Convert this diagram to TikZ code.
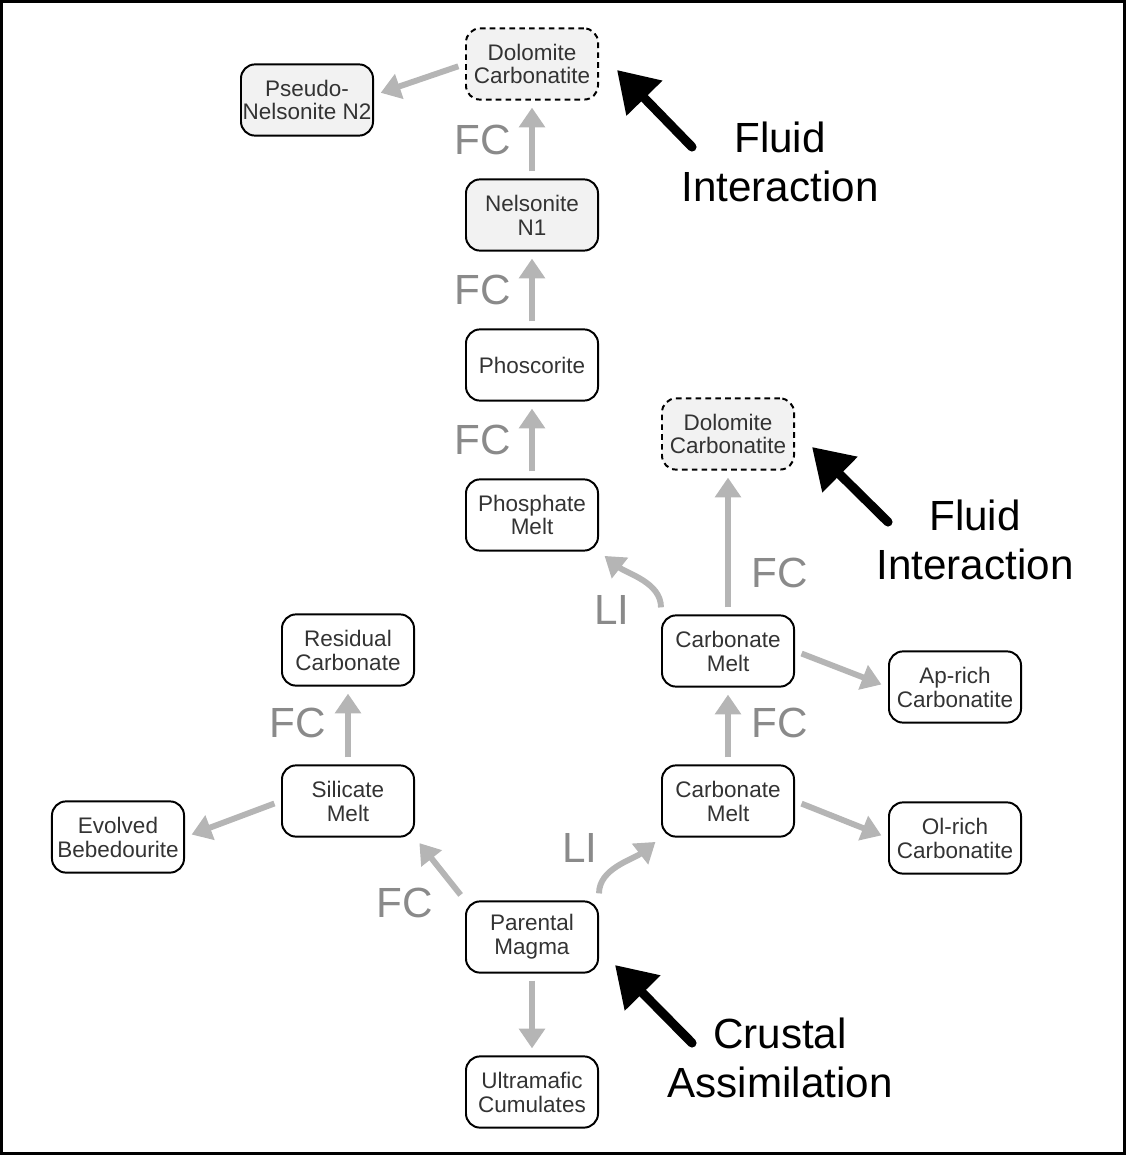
\documentclass[tikz,border=0pt]{standalone}
\usepackage{fontspec}
\setmainfont{Liberation Sans}
\usetikzlibrary{arrows.meta}
\definecolor{flowgray}{HTML}{B5B5B5}
\definecolor{labgray}{HTML}{8A8A8A}
\definecolor{boxfill}{HTML}{F2F2F2}
\definecolor{boxtext}{HTML}{333333}

\begin{document}
\begin{tikzpicture}[x=0.025cm, y=-0.025cm,
  rock/.style={draw, rounded corners=10pt, line width=1.4pt,
    minimum width=3.3cm, minimum height=1.78cm, inner sep=0pt,
    align=center, text=boxtext, font=\fontsize{16}{17}\selectfont},
  late/.style={rock, fill=boxfill},
  fluidbox/.style={late, dash pattern=on 4pt off 3pt},
  flow/.style={draw=flowgray, line width=4.2pt,
    -{Triangle[length=14pt,width=18pt]}, shorten >=5pt, shorten <=5pt},
  push/.style={line width=6.5pt, line cap=round,
    -{Triangle[length=28pt,width=34pt]}},
  proc/.style={text=labgray, font=\fontsize{30}{34}\selectfont},
  cause/.style={align=center, font=\fontsize{30}{35}\selectfont}]
  % frame
  \useasboundingbox (0,0) rectangle (1126,1155);
  \draw[line width=2.2pt] (1.5,1.5) rectangle (1124.5,1153.5);

  % rock boxes
  \node[rock] (parent) at (532,937) {Parental\\Magma};
  \node[rock] (ultra) at (532,1092) {Ultramafic\\Cumulates};
  \node[rock] (silmelt) at (348,801) {Silicate\\Melt};
  \node[rock] (resid) at (348,650) {Residual\\Carbonate};
  \node[rock] (bebed) at (118,837) {Evolved\\Bebedourite};
  \node[rock] (carbA) at (728,801) {Carbonate\\Melt};
  \node[rock] (olrich) at (955,838) {Ol-rich\\Carbonatite};
  \node[rock] (carbB) at (728,651) {Carbonate\\Melt};
  \node[rock] (aprich) at (955,687) {Ap-rich\\Carbonatite};
  \node[fluidbox] (doloB) at (728,434) {Dolomite\\Carbonatite};
  \node[rock] (phosmelt) at (532,515) {Phosphate\\Melt};
  \node[rock] (phoscor) at (532,365) {Phoscorite};
  \node[late] (nels) at (532,215) {Nelsonite\\N1};
  \node[fluidbox] (doloA) at (532,64) {Dolomite\\Carbonatite};
  \node[late] (pseudo) at (307,100) {Pseudo-\\Nelsonite N2};

  % grey process arrows
  \draw[flow] (parent) -- (ultra);
  \draw[flow] (parent.north west) -- (silmelt.south east);
  \draw[flow] (parent.north east) .. controls +(0,-32) and +(-28,22) .. (carbA.south west);
  \draw[flow] (silmelt) -- (resid);
  \draw[flow] (silmelt.west) -- (bebed.east);
  \draw[flow] (carbA) -- (carbB);
  \draw[flow] (carbA.east) -- (olrich.west);
  \draw[flow] (carbB.east) -- (aprich.west);
  \draw[flow] (carbB) -- (doloB);
  \draw[flow] (carbB.north west) .. controls +(0,-32) and +(28,22) .. (phosmelt.south east);
  \draw[flow] (phosmelt) -- (phoscor);
  \draw[flow] (phoscor) -- (nels);
  \draw[flow] (nels) -- (doloA);
  \draw[flow] (doloA.west) -- ([yshift=3.5pt]pseudo.east);

  % process labels
  \node[proc] (fc1) at (405,903) {FC};
  \node[proc] (li1) at (580,848) {LI};
  \node[proc] (fc2) at (298,723) {FC};
  \node[proc] (fc3) at (780,723) {FC};
  \node[proc] (fc4) at (780,573) {FC};
  \node[proc] (li2) at (612,610) {LI};
  \node[proc] (fc5) at (483,440) {FC};
  \node[proc] (fc6) at (483,290) {FC};
  \node[proc] (fc7) at (483,140) {FC};

  % outside influences
  \coordinate (crustT) at (692,1043);
  \coordinate (crustH) at (615,965);
  \coordinate (fluidAT) at (692,147);
  \coordinate (fluidAH) at (617,70);
  \coordinate (fluidBT) at (888,522);
  \coordinate (fluidBH) at (812,447);
  \draw[push] (crustT) -- (crustH);
  \draw[push] (fluidAT) -- (fluidAH);
  \draw[push] (fluidBT) -- (fluidBH);
  \node[cause] (crust) at (780,1058) {Crustal\\Assimilation};
  \node[cause] (fluidA) at (780,162) {Fluid\\Interaction};
  \node[cause] (fluidB) at (975,540) {Fluid\\Interaction};
\end{tikzpicture}
\end{document}
